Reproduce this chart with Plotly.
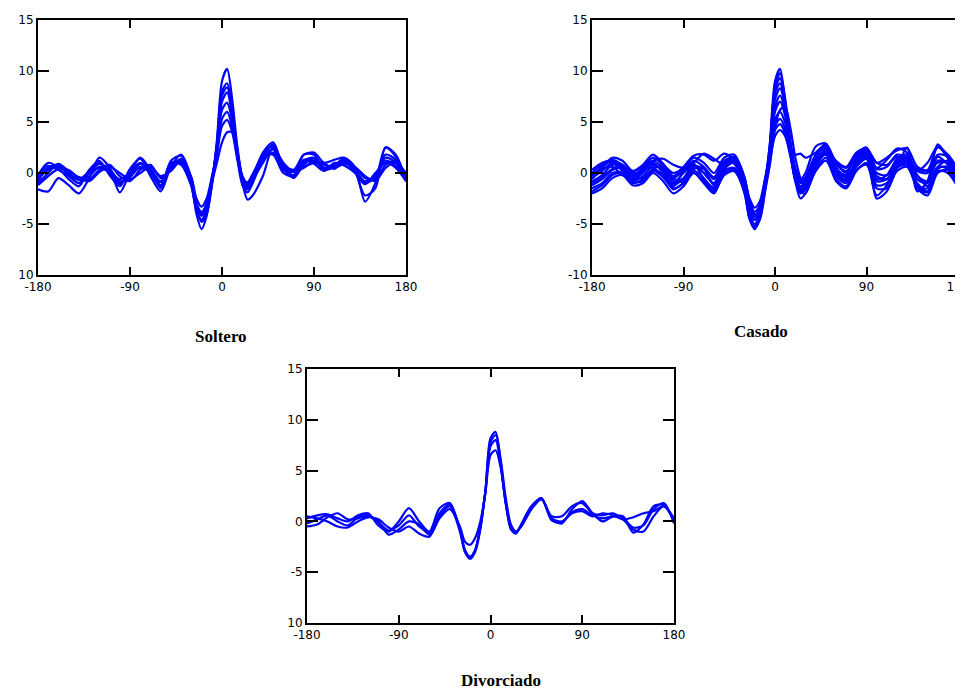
import plotly.graph_objects as go

# Shared angle grid (degrees)
angles = [-180, -170, -160, -150, -140, -130, -120, -110, -100, -90, -80, -70, -60, -50, -40,
          -30, -25, -20, -15, -10, -5, 0, 5, 10, 15, 20, 25, 30,
          40, 50, 60, 70, 80, 90, 100, 110, 120, 130, 140, 150, 160, 170, 180]

soltero = [
    [-0.8, 0.5, 0.8, -0.2, -1.0, 0.0, 0.9, 0.3, -1.0, -0.2, 0.9, 0.3, -1.2, 0.9, 1.2, -1.2, -4.0, -5.5, -4.2, -1.2, 3.2, 9.0, 10.2, 7.2, 2.6, -0.4, -1.3, -0.6, 1.8, 2.6, 0.3, -0.2, 1.2, 1.5, 0.5, 0.8, 1.1, 0.3, -1.0, -0.4, 1.5, 1.0, -0.6],
    [-0.5, 0.3, 0.6, 0.0, -0.7, -0.3, 0.6, 0.4, -0.8, -0.4, 0.6, 0.4, -0.9, 0.7, 1.0, -1.0, -3.6, -4.6, -3.6, -1.0, 2.8, 8.0, 8.8, 6.2, 2.3, -0.3, -1.0, -0.4, 1.5, 2.3, 0.4, 0.1, 1.0, 1.2, 0.4, 0.7, 1.0, 0.2, -0.8, -0.2, 1.2, 0.7, -0.4],
    [-1.0, 0.0, 0.9, 0.2, -0.4, -0.6, 0.3, 0.8, -0.3, -0.8, 0.3, 0.8, -0.5, 0.3, 1.4, -0.6, -3.2, -4.2, -3.3, -0.8, 2.5, 7.0, 7.9, 5.6, 1.9, -0.8, -1.4, -0.2, 1.2, 2.0, 0.8, 0.3, 0.6, 1.0, 0.8, 0.4, 1.3, 0.5, -0.5, -0.6, 0.8, 1.2, -0.2],
    [-0.3, 0.7, 0.3, -0.3, -1.0, 0.2, 1.0, 0.0, -1.1, 0.0, 1.0, 0.0, -1.3, 1.0, 0.8, -1.3, -3.5, -4.0, -3.0, -0.7, 2.3, 6.2, 6.9, 5.1, 1.8, -0.6, -0.9, -0.1, 1.6, 1.8, 0.0, -0.3, 1.3, 0.9, 0.2, 1.0, 0.7, 0.0, -1.1, 0.0, 1.0, 0.5, -0.8],
    [-1.2, -0.3, 0.4, 0.3, -0.5, -0.8, 0.1, 0.6, 0.0, -0.6, 0.0, 0.6, -0.3, 0.2, 1.2, -0.4, -2.5, -3.3, -2.5, -0.4, 2.0, 5.3, 6.0, 4.5, 1.6, -0.9, -1.6, -0.7, 1.0, 2.4, 1.0, 0.1, 0.5, 1.2, 0.9, 0.5, 0.9, 0.6, -0.3, -0.8, 0.5, 1.0, 0.0],
    [-0.6, 0.4, 0.7, -0.1, -0.6, 0.1, 0.5, 0.1, -0.6, 0.0, 0.5, 0.1, -0.8, 0.5, 1.0, -0.8, -3.0, -3.8, -3.0, -0.6, 1.8, 4.6, 5.2, 4.0, 1.3, -1.2, -1.9, -1.0, 1.4, 2.8, 0.6, -0.5, 0.8, 1.4, 0.3, 0.6, 1.2, 0.1, -0.9, -0.3, 1.8, 1.3, -0.5],
    [-1.6, -1.8, -0.5, -1.2, -2.0, -0.5, 1.5, 0.5, -1.9, 0.0, 1.5, 0.3, -1.5, 1.2, 1.7, -0.8, -3.0, -4.0, -3.3, -1.0, 1.0, 3.0, 4.0, 4.0, 2.0, -1.0, -2.6, -2.2, -0.3, 2.5, 0.8, -0.3, 1.8, 1.8, 0.5, 0.8, 1.4, 0.2, -2.2, -1.5, 2.5, 1.6, -0.8],
    [-0.2, 1.0, 0.5, -0.6, -1.3, 0.3, 1.2, -0.2, -1.3, 0.4, 1.4, -0.3, -1.8, 0.6, 1.8, -0.5, -3.3, -4.8, -4.0, -1.3, 2.7, 7.6, 8.4, 5.9, 2.1, -0.5, -1.1, -0.3, 2.0, 3.0, 0.7, 0.3, 1.8, 2.0, 1.0, 1.3, 1.5, 0.6, -2.8, -1.0, 2.5, 1.8, -0.7],
]

casado = [
    [-0.8, -0.2, 0.8, 0.6, -0.4, 0.2, 0.9, 0.2, -1.2, -0.5, 0.8, 0.0, -1.0, 1.0, 0.9, -1.8, -4.5, -5.5, -4.5, -1.5, 3.0, 9.0, 10.2, 6.8, 2.3, -0.5, -1.8, -1.2, 1.5, 2.8, 0.3, -0.7, 1.3, 2.0, -0.6, -0.2, 1.4, 1.8, -0.6, -1.0, 1.2, 1.0, -0.5],
    [-1.2, -0.6, 0.3, 0.5, -0.8, -0.3, 0.7, 0.3, -0.8, -0.8, 0.4, 0.4, -1.2, 0.6, 1.2, -1.5, -4.0, -5.0, -4.2, -1.4, 2.6, 8.2, 9.3, 6.4, 2.1, -0.7, -1.5, -1.0, 1.0, 2.4, 0.5, -0.3, 1.0, 1.6, -0.3, -0.6, 1.0, 1.4, -0.2, -1.3, 0.6, 1.2, -0.8],
    [-0.3, 0.6, 1.5, 1.2, 0.2, 0.8, 1.8, 0.9, -0.3, 0.6, 1.7, 1.8, 1.2, 1.9, 1.3, -1.0, -3.5, -4.6, -3.8, -1.0, 2.8, 7.8, 8.8, 6.2, 2.6, 1.8, 1.9, 1.5, 2.0, 2.8, 1.0, 0.5, 1.6, 2.4, 1.0, 0.8, 1.6, 1.2, 0.4, 0.2, 1.0, 1.0, 0.2],
    [-1.5, -1.0, 0.0, 0.0, -1.0, -0.6, 0.3, -0.2, -1.5, -1.0, 0.2, -0.5, -1.6, 0.2, 0.5, -1.8, -4.2, -5.2, -4.6, -2.0, 1.8, 7.2, 8.3, 6.5, 2.9, 0.0, -1.8, -2.0, 0.5, 2.0, -0.3, -1.0, 0.8, 1.4, -1.2, -1.0, 0.6, 1.0, -1.0, -1.8, 0.4, 0.6, -1.2],
    [0.3, 1.0, 1.2, 0.7, 0.2, 0.6, 1.5, 0.8, 0.0, 0.5, 1.5, 1.0, 0.0, 1.5, 1.8, -0.5, -2.8, -3.8, -3.2, -0.8, 2.0, 6.5, 7.6, 6.0, 2.8, 0.2, -1.0, -0.5, 1.8, 2.5, 1.2, 0.6, 2.0, 2.4, 1.0, 1.5, 2.2, 2.4, 0.6, 0.3, 2.5, 1.8, 0.4],
    [-2.0, -1.5, -0.5, -0.2, -1.2, -1.0, 0.0, -0.8, -2.0, -1.3, 0.0, -1.0, -2.0, 0.0, 0.4, -2.0, -4.5, -5.3, -4.4, -1.6, 1.5, 6.0, 7.0, 5.6, 2.3, -0.8, -2.5, -2.0, 0.2, 1.5, -0.8, -1.5, 0.2, 1.0, -2.2, -1.2, 0.5, 0.8, -1.5, -2.2, 0.0, 0.3, -1.5],
    [-0.5, 0.2, 1.0, 0.2, -0.6, 0.0, 1.0, 0.0, -1.0, 0.0, 0.8, 0.0, -1.0, 0.4, 1.0, -0.8, -2.8, -4.0, -3.8, -1.8, 0.8, 4.5, 6.2, 6.5, 4.5, 1.5, -0.5, -1.5, 0.8, 2.0, 0.5, -0.5, 0.8, 2.0, -2.5, -1.8, 0.5, 2.5, -1.8, -0.8, 2.8, 1.5, -0.5],
    [-1.0, -0.4, 0.4, 0.8, -0.2, -0.5, 0.4, 0.6, -0.6, -0.6, 0.6, 0.5, -0.6, 1.0, 1.4, -1.0, -3.2, -4.3, -3.6, -1.2, 1.8, 5.2, 6.0, 4.9, 2.3, -0.2, -1.3, -0.8, 1.2, 2.2, 0.4, -0.2, 1.0, 1.8, 0.0, -0.2, 1.2, 1.6, -0.3, -0.8, 1.6, 0.8, -0.8],
    [-0.2, 0.4, 0.6, -0.2, -0.8, 0.4, 0.5, -0.4, -1.3, 0.2, 0.9, -0.6, -1.4, 0.3, 0.2, -1.6, -3.8, -4.6, -3.8, -1.2, 1.6, 4.6, 5.3, 4.3, 1.9, -0.6, -1.6, -1.3, 0.8, 1.8, 0.0, -0.8, 0.6, 1.4, -0.8, -0.6, 0.8, 1.2, -1.2, -1.5, 0.6, 0.4, -1.0],
    [0.0, 0.8, 1.1, 0.3, -0.3, 0.5, 1.2, 0.5, -0.5, 0.3, 1.2, 0.6, -0.4, 1.2, 1.5, -0.6, -2.5, -3.4, -2.8, -0.6, 1.8, 4.2, 4.8, 3.9, 1.9, 0.0, -0.8, -0.4, 1.5, 2.6, 0.8, 0.2, 1.5, 2.2, 0.4, 0.6, 1.8, 1.4, 0.2, 0.0, 1.8, 1.6, 0.0],
    [-1.8, -1.2, -0.2, 0.0, -0.9, -0.8, 0.2, -0.4, -1.6, -1.0, 0.0, -0.8, -1.8, -0.2, 0.2, -1.8, -3.6, -4.2, -3.4, -1.2, 1.2, 3.6, 4.2, 3.6, 1.7, -0.8, -2.0, -1.6, 0.2, 1.2, -0.6, -1.3, 0.3, 0.8, -1.5, -1.5, 0.2, 0.6, -1.4, -1.9, 0.2, 0.0, -1.4],
    [-0.6, 0.5, 1.3, 0.8, 0.0, 0.3, 1.2, 1.4, 0.8, 0.5, 1.0, 1.9, 1.4, 0.8, 1.6, -0.4, -3.0, -4.2, -3.6, -1.3, 2.2, 8.5, 9.8, 7.3, 3.3, 0.5, -0.6, 0.0, 2.6, 2.9, 1.0, 0.0, 1.8, 2.5, 0.5, 1.3, 2.4, 2.0, 0.2, 1.0, 2.6, 1.5, 0.2],
]

divorciado = [
    [0.3, 0.6, 0.7, 0.3, 0.0, 0.6, 0.8, -0.4, -1.0, 0.0, 1.3, 0.0, -1.0, 1.3, 1.8, -0.8, -3.0, -3.7, -3.0, -0.8, 3.0, 8.2, 8.8, 5.8, 1.8, -0.8, -1.2, -0.3, 1.5, 2.3, 0.2, -0.2, 1.2, 2.0, 0.8, 0.0, 0.5, 0.5, -1.1, -0.3, 1.5, 1.6, 0.0],
    [-0.5, -0.3, 0.4, 0.8, 0.2, 0.3, 0.5, 0.0, -1.3, -0.8, 0.0, -0.3, -1.3, 0.5, 1.5, -1.0, -3.0, -3.5, -2.8, -0.5, 3.0, 7.8, 8.5, 6.1, 2.3, -0.3, -1.0, -0.5, 1.2, 2.2, 0.3, 0.0, 0.8, 1.0, 0.5, 0.8, 0.6, 0.2, 0.4, 0.8, 1.0, 1.5, 0.2],
    [0.5, 0.3, 0.0, -0.5, -0.6, 0.0, 0.4, 0.2, -0.6, -1.0, -0.5, -1.2, -1.5, 0.3, 1.2, -0.5, -2.0, -2.3, -1.6, 0.0, 2.8, 6.5, 7.0, 5.3, 1.8, -0.5, -1.0, -0.5, 1.2, 2.2, 0.5, 0.5, 1.5, 1.8, 0.8, 0.6, 0.8, 0.2, -0.8, -1.0, 0.5, 1.5, 0.3],
    [-0.2, 0.2, 0.6, 0.0, -0.4, 0.4, 0.6, -0.1, -0.9, -0.4, 0.6, -0.5, -1.1, 0.8, 1.7, -0.8, -2.8, -3.5, -2.8, -0.6, 2.9, 7.4, 8.0, 5.5, 1.7, -0.6, -1.1, -0.4, 1.4, 2.3, 0.1, -0.1, 0.9, 1.2, 0.6, 0.3, 0.5, 0.3, -0.6, -0.4, 1.2, 1.8, -0.2],
]

panel_titles = ["Soltero", "Casado", "Divorciado"]
x_tickvals = [-180, -90, 0, 90, 180]
x_ticktext = ["-180", "-90", "0", "90", "180"]
y_tickvals = [-10, -5, 0, 5, 10, 15]
y_ticktext_1 = ["10", "-5", "0", "5", "10", "15"]
y_ticktext_2 = ["-10", "-5", "0", "5", "10", "15"]
y_ticktext_3 = ["10", "-5", "0", "5", "10", "15"]

# the page body adds an 8px margin, so the figure is drawn 8px in from the corner
W, H = 955, 683
# pixel boxes (left, right, top, bottom) in figure coordinates
boxes = [(30, 398, 12, 267), (584, 950, 12, 267), (299, 666, 361, 615)]

fig = go.Figure()
blue = "#0000FF"
datasets = [soltero, casado, divorciado]
for i, data in enumerate(datasets):
    xa = "x" if i == 0 else f"x{i+1}"
    ya = "y" if i == 0 else f"y{i+1}"
    for curve in data:
        fig.add_trace(go.Scatter(x=angles, y=curve, mode="lines", xaxis=xa, yaxis=ya,
                                 line=dict(color=blue, width=2.2, shape="spline", smoothing=0.8),
                                 showlegend=False, hoverinfo="skip"))

ytexts = [y_ticktext_1, y_ticktext_2, y_ticktext_3]
tickfont = dict(family="DejaVu Sans, Liberation Sans, sans-serif", size=12, color="black")
layout = dict(width=W, height=H, margin=dict(l=0, r=0, t=0, b=0),
              paper_bgcolor="white", plot_bgcolor="white", showlegend=False)
for i, (l, r, t, b) in enumerate(boxes):
    xk = "xaxis" if i == 0 else f"xaxis{i+1}"
    yk = "yaxis" if i == 0 else f"yaxis{i+1}"
    anchor_x = "y" if i == 0 else f"y{i+1}"
    anchor_y = "x" if i == 0 else f"x{i+1}"
    common = dict(showline=True, linecolor="black", linewidth=2, mirror="ticks",
                  ticks="inside", tickwidth=2, tickcolor="black",
                  showgrid=False, zeroline=False, tickfont=tickfont, fixedrange=True,
                  ticklabeloverflow="allow")
    layout[xk] = dict(domain=[l / W, r / W], anchor=anchor_x, range=[-180, 180], ticklen=8,
                      tickvals=x_tickvals, ticktext=x_ticktext, automargin=False, **common)
    layout[yk] = dict(domain=[1 - b / H, 1 - t / H], anchor=anchor_y, range=[-10, 15], ticklen=11,
                      tickvals=y_tickvals, ticktext=ytexts[i], automargin=False, **common)
fig.update_layout(**layout)

title_pos = [(213, 328), (753, 323), (493, 672)]
for name, (px, py) in zip(panel_titles, title_pos):
    fig.add_annotation(text=f"<b>{name}</b>", x=px / W, y=1 - py / H, xref="paper", yref="paper",
                       showarrow=False, xanchor="center", yanchor="middle",
                       font=dict(family="Liberation Serif, Times New Roman, serif", size=17, color="black"))

fig.write_html("out.html")
